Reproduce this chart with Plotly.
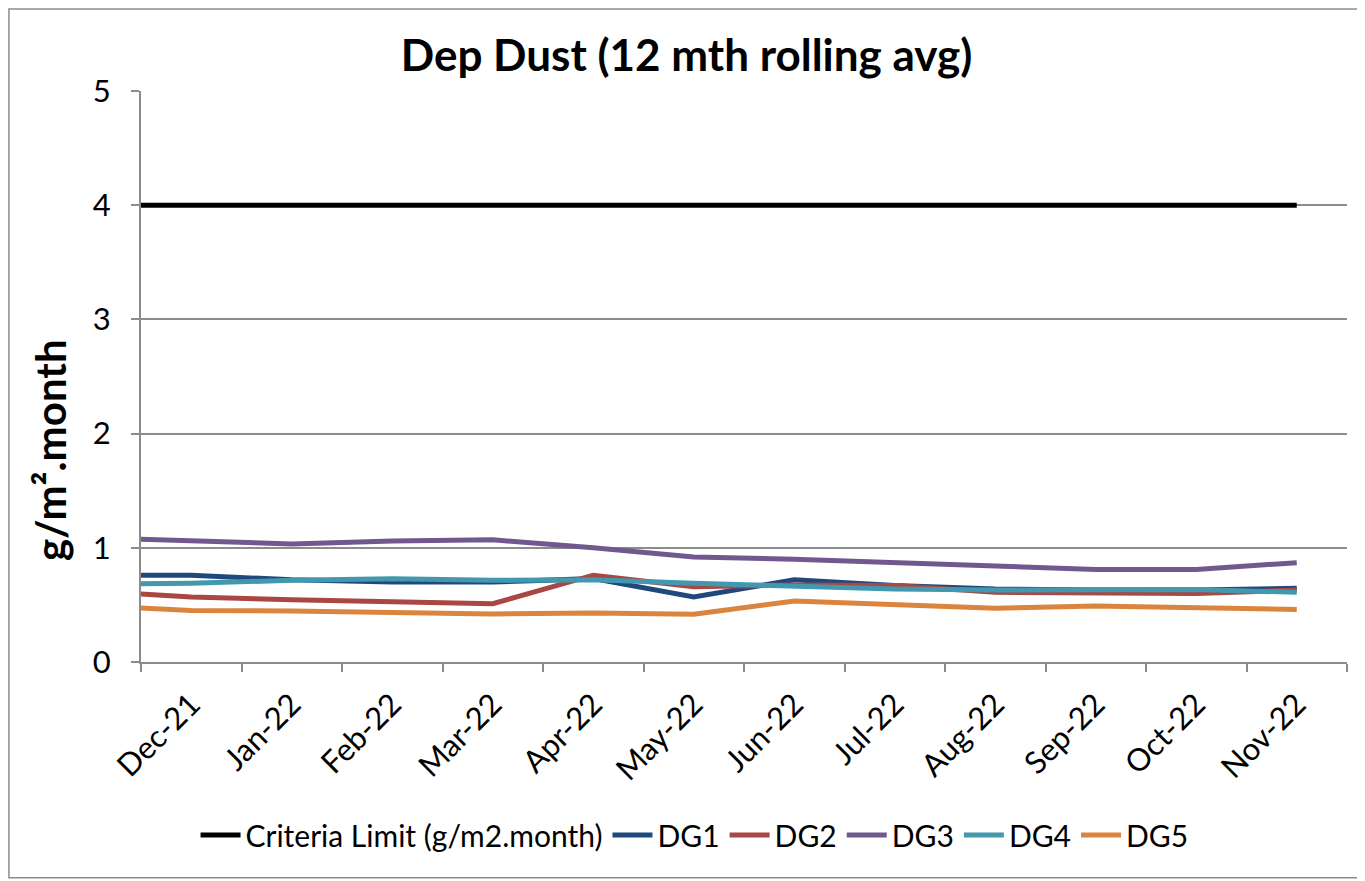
import plotly.graph_objects as go

# Categories (Nov-21 only sets the clipped lead-in of each line at the left edge)
months = ["Nov-21", "Dec-21", "Jan-22", "Feb-22", "Mar-22", "Apr-22", "May-22",
          "Jun-22", "Jul-22", "Aug-22", "Sep-22", "Oct-22", "Nov-22"]

criteria = [4, 4, 4, 4, 4, 4, 4, 4, 4, 4, 4, 4, 4]
dg1 = [0.76, 0.76, 0.72, 0.70, 0.70, 0.73, 0.57, 0.72, 0.67, 0.64, 0.63, 0.63, 0.645]
dg2 = [0.62, 0.57, 0.545, 0.53, 0.51, 0.76, 0.66, 0.675, 0.67, 0.61, 0.60, 0.60, 0.63]
dg3 = [1.09, 1.06, 1.033, 1.06, 1.07, 1.00, 0.92, 0.90, 0.87, 0.835, 0.81, 0.81, 0.87]
dg4 = [0.68, 0.69, 0.715, 0.73, 0.715, 0.72, 0.69, 0.66, 0.64, 0.63, 0.63, 0.635, 0.61]
dg5 = [0.497, 0.45, 0.447, 0.432, 0.42, 0.43, 0.418, 0.535, 0.505, 0.47, 0.49, 0.475, 0.46]

series = [
    ("Criteria Limit (g/m2.month)", criteria, "#000000"),
    ("DG1", dg1, "#1F497D"),
    ("DG2", dg2, "#AA4643"),
    ("DG3", dg3, "#71588F"),
    ("DG4", dg4, "#4198AF"),
    ("DG5", dg5, "#DB843D"),
]

FONT = "Lato, 'Open Sans', sans-serif"

fig = go.Figure()
for name, vals, color in series:
    fig.add_trace(go.Scatter(
        x=months, y=vals, name=name, mode="lines",
        line=dict(color=color, width=5),
    ))

fig.update_layout(
    width=1357, height=873,
    margin=dict(l=133, r=18, t=83, b=219),
    paper_bgcolor="white", plot_bgcolor="white",
    font=dict(family=FONT, color="black"),
    title=dict(text="<b>Dep Dust (12 mth rolling avg)</b>", x=0.5, xanchor="center",
               y=0.946, yanchor="middle", font=dict(size=44, family=FONT)),
    showlegend=True,
    legend=dict(orientation="h", x=0.459, xanchor="center", y=-0.303, yanchor="middle",
                font=dict(size=30, family=FONT), itemwidth=40, tracegroupgap=0),
    shapes=[dict(type="rect", xref="paper", yref="paper",
                 x0=-0.1095, x1=1.0124, y0=-0.378, y1=1.1436,
                 line=dict(color="#8c8c8c", width=1.5), layer="below")],
    annotations=[dict(text="<b>g/m².month</b>", textangle=-90, xref="paper", yref="paper",
                      x=-0.0755, y=0.371, xanchor="center", yanchor="middle",
                      showarrow=False, font=dict(size=42, family=FONT))],
)

fig.update_xaxes(
    type="category", categoryorder="array", categoryarray=months,
    range=[0.5, 12.5], tickson="boundaries", ticks="outside", ticklen=8,
    tickcolor="#8c8c8c", tickwidth=2, showgrid=False,
    showline=True, linecolor="#8c8c8c", linewidth=2,
    tickangle=-45, tickfont=dict(size=31, family=FONT), zeroline=False,
    ticklabelstandoff=10,
)
fig.update_yaxes(
    range=[0, 5], tickvals=[0, 1, 2, 3, 4, 5], ticks="outside", ticklen=8,
    tickcolor="#8c8c8c", tickwidth=2,
    showgrid=True, gridcolor="#8c8c8c", gridwidth=2,
    showline=True, linecolor="#8c8c8c", linewidth=2, zeroline=False,
    tickfont=dict(size=31, family=FONT), ticklabelstandoff=14,
)

fig.write_html("out.html")
